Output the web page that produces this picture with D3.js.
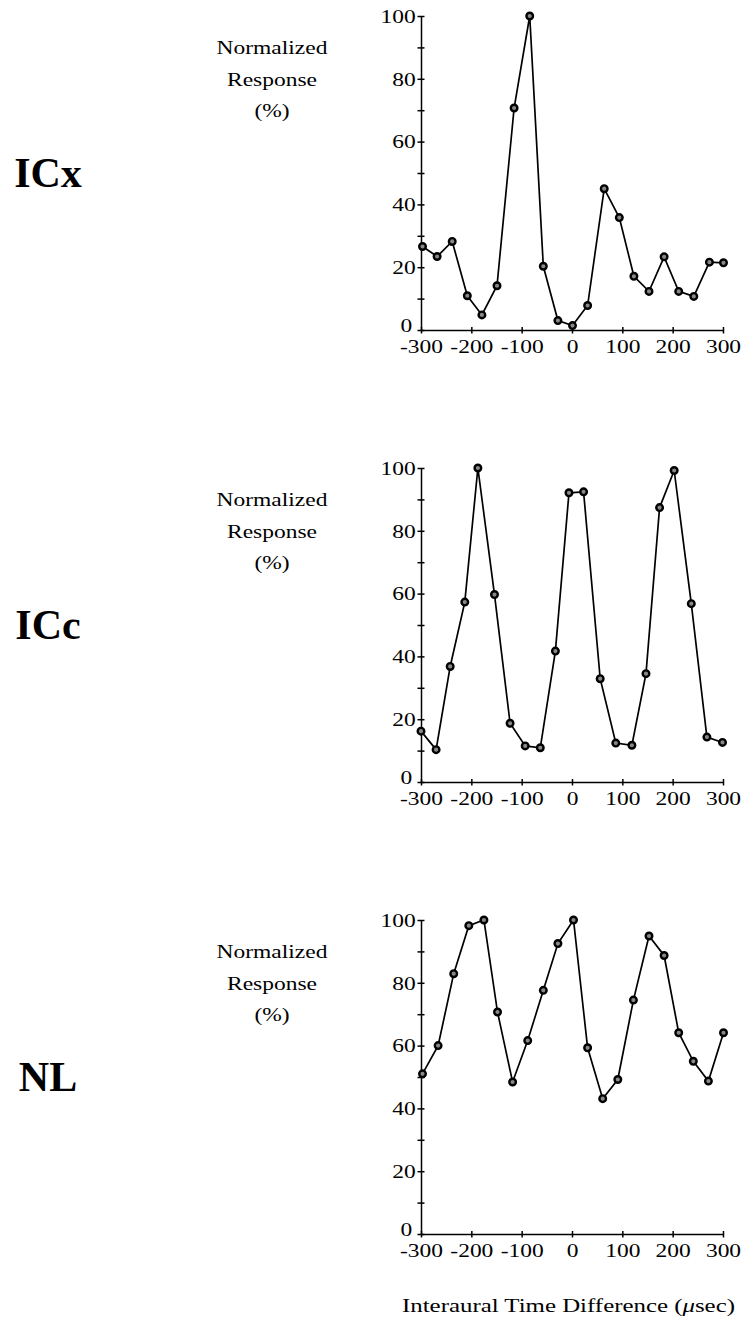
<!DOCTYPE html>
<html>
<head>
<meta charset="utf-8">
<script src="https://cdn.jsdelivr.net/npm/d3@7"></script>
<style>
  body { margin: 0; background: #fff; }
  svg text { font-family: "Liberation Serif", "DejaVu Serif", serif; fill: #000; }
  .axis path, .axis line { stroke: #000; stroke-width: 1.5; }
</style>
</head>
<body>
<div id="chart"></div>
<script>
"use strict";

// Data: ITD (usec) and normalized response (%)
var panelNames = ["ICx", "ICc", "NL"];

var itdICx = [-297, -268, -238, -208, -179, -149, -115, -84, -57, -28, 1, 31, 64, 94, 123, 153, 183, 212, 242, 273, 301];
var respICx = [26.6, 23.4, 28.2, 10.9, 4.8, 14.1, 70.7, 100, 20.3, 3.0, 1.4, 7.8, 45.0, 35.8, 17.1, 12.3, 23.3, 12.3, 10.7, 21.6, 21.4];

var itdICc = [-300, -270, -242, -213, -187, -154, -123, -93, -63, -33, -6, 23, 56, 87, 119, 147, 174, 203, 237, 268, 299];
var respICc = [16.2, 10.3, 36.8, 57.3, 100, 59.7, 18.7, 11.5, 10.9, 41.7, 92.1, 92.4, 32.9, 12.4, 11.7, 34.5, 87.4, 99.2, 56.8, 14.3, 12.6];

var itdNL = [-297, -266, -235, -205, -175, -148, -118, -88, -57, -28, 3, 31, 61, 91, 122, 153, 183, 212, 241, 271, 301];
var respNL = [51.0, 60.0, 82.9, 98.2, 100, 70.7, 48.4, 61.6, 77.6, 92.5, 100, 59.3, 43.1, 49.2, 74.5, 94.9, 88.7, 64.1, 55.0, 48.7, 64.1];

var xTicks = [-300, -200, -100, 0, 100, 200, 300];
var yTicks = [0, 20, 40, 60, 80, 100];
var yMinorTicks = [10, 30, 50, 70, 90];
var yLabelLines = ["Normalized", "Response", "(%)"];
var xTitle = "Interaural Time Difference (";

var panelItd = [itdICx, itdICc, itdNL];
var panelResp = [respICx, respICc, respNL];

(function() {
  var width = 744,
      height = 1323;

  var stretch = 1.27;        // the original lettering is wider than it is tall
  var panelTops = [16, 468, 920];
  var plotHeight = 314;
  var left = 421, right = 723;

  var svg = d3.select("#chart").append("svg")
    .attr("width", width)
    .attr("height", height);

  var x = d3.scaleLinear().domain([-300, 300]).range([left, right]);

  panelNames.forEach(function(name, p) {
    var top = panelTops[p];
    var y = d3.scaleLinear().domain([0, 100]).range([top + plotHeight, top]);
    var g = svg.append("g").attr("class", "panel");

    // y axis, ticks crossing the line
    var yAxis = g.append("g")
      .attr("class", "axis")
      .attr("transform", "translate(" + left + ",0)")
      .call(d3.axisLeft(y).tickValues(yTicks.concat(yMinorTicks)).tickSizeOuter(0)
        .tickFormat(function(d) { return yTicks.indexOf(d) >= 0 ? d : ""; }));
    yAxis.selectAll(".tick line").attr("x1", -3.5).attr("x2", 3.5);
    yAxis.selectAll(".tick text")
      .attr("font-size", 18.5)
      .attr("font-family", null)
      .attr("transform", "scale(" + stretch + ",1)")
      .attr("x", function(d) { return d === 0 ? -7 : -4.2; })
      .attr("dy", function(d) { return d === 0 ? "0em" : "0.34em"; })
      .attr("y", function(d) { return d === 0 ? 1 : 0; });

    // x axis
    var xAxis = g.append("g")
      .attr("class", "axis")
      .attr("transform", "translate(0," + (top + plotHeight) + ")")
      .call(d3.axisBottom(x).tickValues(xTicks).tickSizeOuter(0));
    xAxis.selectAll(".tick line").attr("y1", -3).attr("y2", 3.5);
    xAxis.selectAll(".tick text")
      .attr("font-size", 18.5)
      .attr("font-family", null)
      .attr("transform", "scale(" + stretch + ",1)")
      .attr("y", 9.5)
      .text(function(d) { return d < 0 ? "-" + Math.abs(d) : d; });

    // data line + markers
    var pts = d3.zip(panelItd[p], panelResp[p]);
    var line = d3.line()
      .x(function(d) { return x(d[0]); })
      .y(function(d) { return y(d[1]); });

    g.append("path")
      .datum(pts)
      .attr("fill", "none")
      .attr("stroke", "#000")
      .attr("stroke-width", 1.7)
      .attr("d", line);

    g.selectAll("circle")
      .data(pts)
    .enter().append("circle")
      .attr("cx", function(d) { return x(d[0]); })
      .attr("cy", function(d) { return y(d[1]); })
      .attr("r", 3.3)
      .attr("fill", "#888")
      .attr("stroke", "#000")
      .attr("stroke-width", 2.4);

    // y label block
    var baselines = [38, 69.5, 101];
    yLabelLines.forEach(function(txt, i) {
      g.append("text")
        .attr("transform", "translate(272," + (top + baselines[i]) + ") scale(" + stretch + ",1)")
        .attr("text-anchor", "middle")
        .attr("font-size", 18.5)
        .text(txt);
    });

    // panel name
    g.append("text")
      .attr("x", 48)
      .attr("y", top + 171)
      .attr("text-anchor", "middle")
      .attr("font-size", 42)
      .attr("font-weight", "bold")
      .text(name);
  });

  // x title
  var title = svg.append("text")
    .attr("x", 402)
    .attr("y", 1312)
    .attr("font-size", 18.5)
    .attr("textLength", 333)
    .attr("lengthAdjust", "spacingAndGlyphs");
  title.append("tspan").text(xTitle);
  title.append("tspan").attr("font-style", "italic").text("\u03bc");
  title.append("tspan").text("sec)");
})();
</script>
</body>
</html>
